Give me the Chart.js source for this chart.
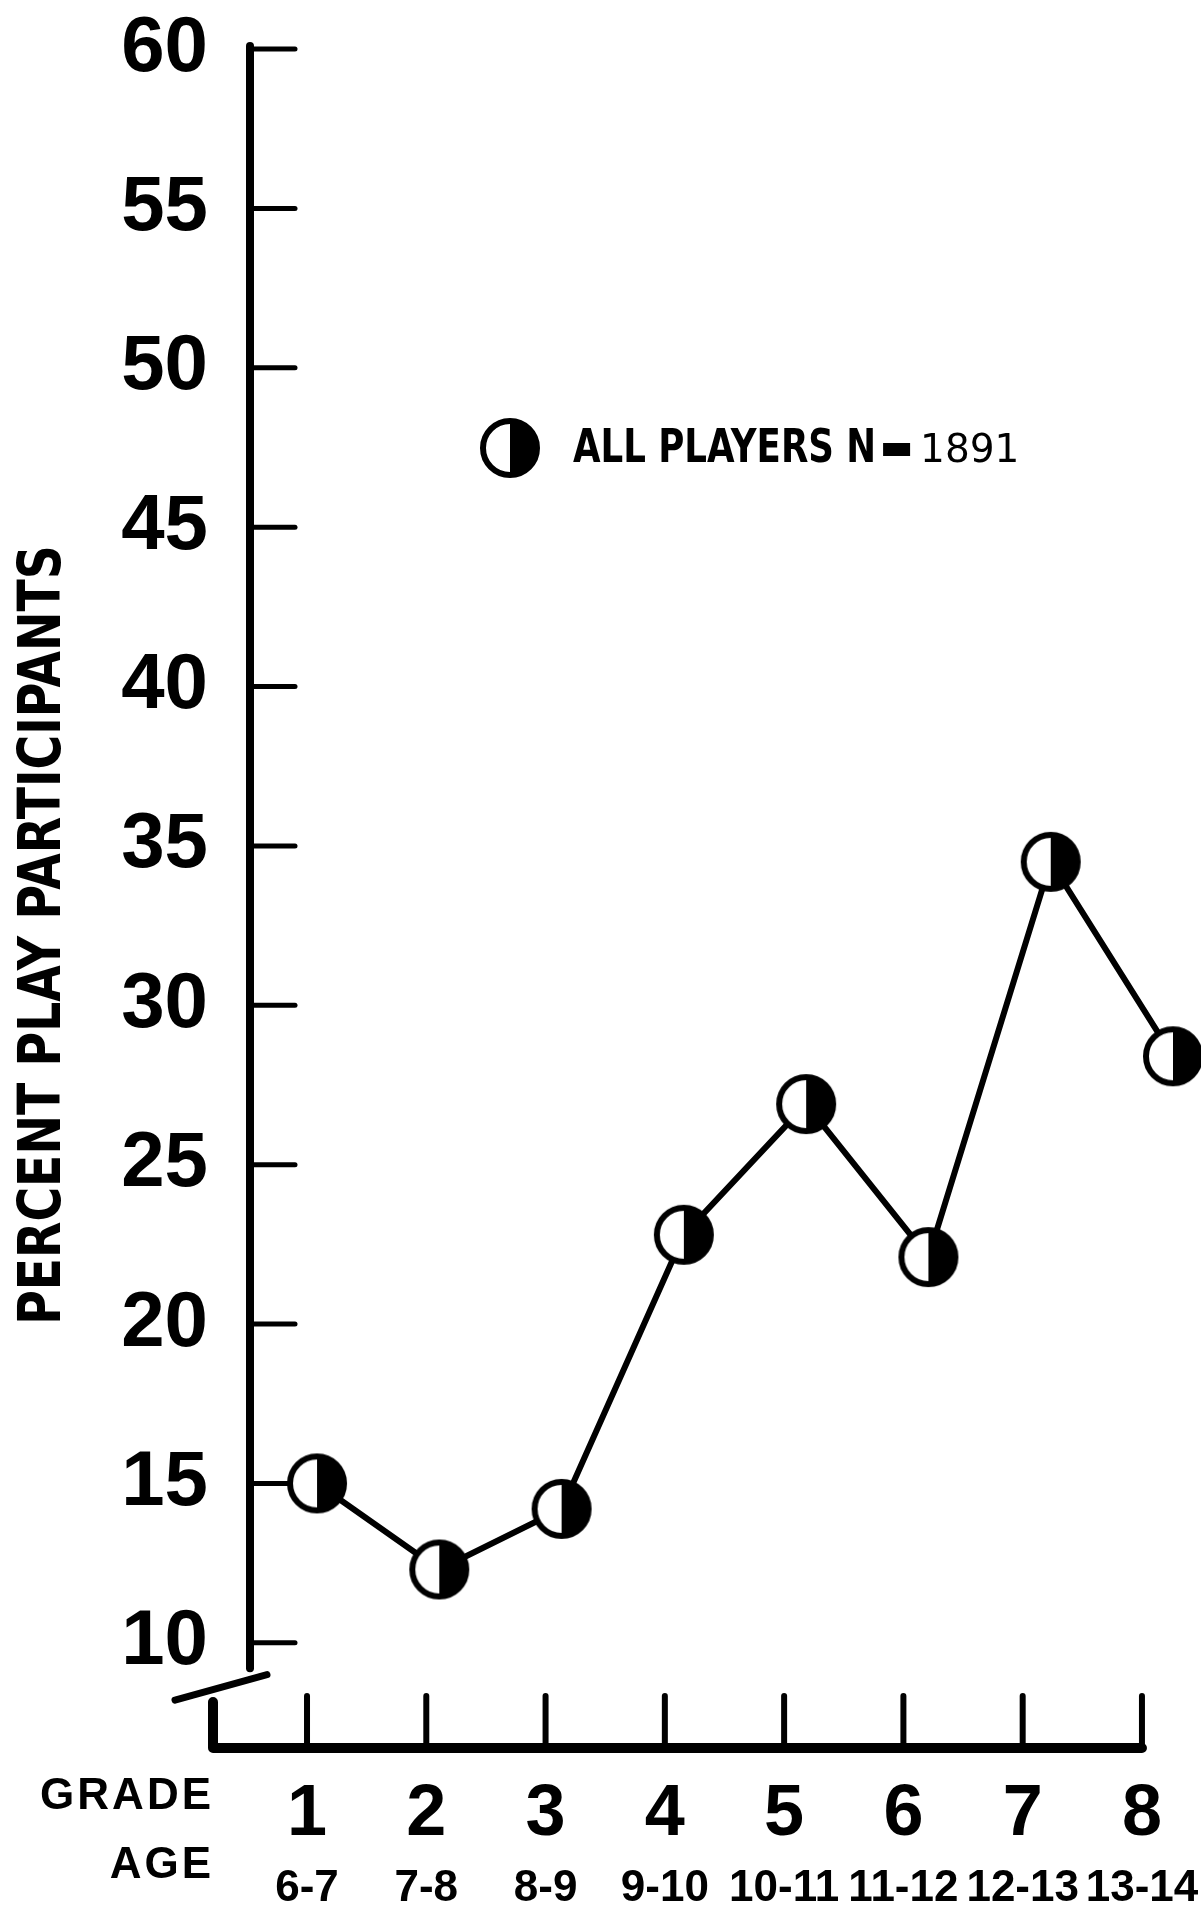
<!DOCTYPE html>
<html><head><meta charset="utf-8">
<script src="https://cdn.jsdelivr.net/npm/chart.js@4.4.1/dist/chart.umd.min.js"></script>
<style>html,body{margin:0;padding:0;background:#fff;} #wrap{width:1201px;height:1925px;position:relative;}</style>
</head><body><div id="wrap"><canvas id="c" width="1201" height="1925"></canvas></div>
<script>
// ---- data ----
const gradePositions = [1, 2, 3, 4, 5, 6, 7, 8];
const grades = ['1', '2', '3', '4', '5', '6', '7', '8'];
const ages = ['6-7', '7-8', '8-9', '9-10', '10-11', '11-12', '12-13', '13-14'];
const percentPlayParticipants = [15.0, 12.3, 14.2, 22.8, 26.9, 22.1, 34.5, 28.4];
const yTickValues = [10, 15, 20, 25, 30, 35, 40, 45, 50, 55, 60];
const seriesName = 'ALL PLAYERS N';
const seriesN = '1891';
const yTitle = 'PERCENT PLAY PARTICIPANTS';
const xRowTitles = ['GRADE', 'AGE'];

const SANS = "'Liberation Sans', Arial, sans-serif";
const COND = "'DejaVu Sans Condensed', 'DejaVu Sans', sans-serif";

function halfMarker(r, lw) {
  const s = Math.ceil(2 * r + lw + 2);
  const c = document.createElement('canvas');
  c.width = s; c.height = s;
  const g = c.getContext('2d');
  const m = s / 2;
  g.fillStyle = '#fff';
  g.beginPath(); g.arc(m, m, r, 0, Math.PI * 2); g.fill();
  g.fillStyle = '#000';
  g.beginPath(); g.moveTo(m, m - r); g.arc(m, m, r, -Math.PI / 2, Math.PI / 2); g.closePath(); g.fill();
  g.strokeStyle = '#000'; g.lineWidth = lw;
  g.beginPath(); g.arc(m, m, r, 0, Math.PI * 2); g.stroke();
  return c;
}
const marker = halfMarker(27, 6);

const points = gradePositions.map((g, i) => ({ x: g, y: percentPlayParticipants[i] }));

const decor = {
  id: 'decor',
  beforeDatasetsDraw(chart) {
    const { ctx, chartArea, scales: { xg, y } } = chart;
    const ax = chartArea.left, by = chartArea.bottom;
    ctx.save();
    ctx.strokeStyle = '#000';
    ctx.lineCap = 'round';
    // y axis line (broken near the bottom)
    ctx.lineWidth = 8;
    ctx.beginPath(); ctx.moveTo(ax, y.getPixelForValue(60) - 3); ctx.lineTo(ax, y.getPixelForValue(9.2)); ctx.stroke();
    // inward y ticks
    ctx.lineWidth = 5;
    y.ticks.forEach(t => {
      const py = y.getPixelForValue(t.value);
      ctx.beginPath(); ctx.moveTo(ax, py); ctx.lineTo(ax + 45, py); ctx.stroke();
    });
    // break slash
    ctx.lineWidth = 7;
    ctx.beginPath(); ctx.moveTo(ax - 75, y.getPixelForValue(8.2)); ctx.lineTo(ax + 17, y.getPixelForValue(9.0)); ctx.stroke();
    // x axis line
    ctx.lineJoin = 'round';
    ctx.lineWidth = 10;
    const x0 = ax - 37, x8 = xg.getPixelForValue(8);
    ctx.beginPath(); ctx.moveTo(x0, by - 46); ctx.lineTo(x0, by); ctx.lineTo(x8, by); ctx.stroke();
    // upward x ticks
    ctx.lineWidth = 6;
    xg.ticks.forEach(t => {
      const px = xg.getPixelForValue(t.value);
      ctx.beginPath(); ctx.moveTo(px, by); ctx.lineTo(px, by - 52); ctx.stroke();
    });
    ctx.restore();
  },
  afterDraw(chart) {
    const { ctx } = chart;
    ctx.save();
    ctx.fillStyle = '#000';
    // y title (condensed)
    ctx.save();
    ctx.translate(45, 935);
    ctx.rotate(-Math.PI / 2);
    ctx.scale(0.905, 1);
    ctx.font = 'bold 58px ' + COND;
    ctx.textAlign = 'center'; ctx.textBaseline = 'middle';
    ctx.fillText(yTitle, 0, 0);
    ctx.restore();
    // row titles
    ctx.textAlign = 'right'; ctx.textBaseline = 'middle';
    ctx.font = 'bold 44px ' + SANS;
    ctx.letterSpacing = '3px';
    ctx.fillText(xRowTitles[0], 214, 1797);
    ctx.fillText(xRowTitles[1], 214, 1866);
    ctx.letterSpacing = '0px';
    // legend
    ctx.drawImage(marker, 510 - marker.width / 2, 448 - marker.height / 2);
    ctx.textAlign = 'left';
    ctx.font = 'bold 46px ' + COND;
    const sx = 0.86;
    const w = ctx.measureText(seriesName).width * sx;
    ctx.save();
    ctx.translate(573, 450);
    ctx.scale(sx, 1);
    ctx.fillText(seriesName, 0, 0);
    ctx.restore();
    ctx.fillRect(573 + w + 7, 443, 27, 13);
    ctx.font = '39px ' + "'DejaVu Sans', sans-serif";
    ctx.fillText(seriesN, 573 + w + 44, 452);
    ctx.restore();
  }
};

const labelAxis = (labels, weight, height, pad, size) => ({
  type: 'linear', position: 'bottom', weight,
  min: 0.522, max: 8.495,
  afterBuildTicks: s => { s.ticks = gradePositions.map(v => ({ value: v })); },
  afterFit: s => { s.height = height; s.paddingLeft = 0; s.paddingRight = 0; },
  grid: { display: false, drawTicks: false },
  border: { display: false },
  ticks: {
    padding: pad, color: '#000',
    font: { family: SANS, weight: 'bold', size },
    callback: (v) => labels[gradePositions.indexOf(v)] ?? ''
  }
});

new Chart(document.getElementById('c'), {
  type: 'line',
  data: {
    datasets: [{
      label: seriesName + ' = ' + seriesN,
      data: points,
      xAxisID: 'x',
      yAxisID: 'y',
      borderColor: '#000',
      borderWidth: 6,
      tension: 0,
      pointStyle: marker,
      pointRadius: 30,
      pointHoverRadius: 30,
      clip: false
    }]
  },
  options: {
    responsive: false,
    animation: false,
    devicePixelRatio: 1,
    layout: { autoPadding: false, padding: { top: 49, right: 0, bottom: 0, left: 0 } },
    plugins: { legend: { display: false }, tooltip: { enabled: false } },
    scales: {
      x: { type: 'linear', display: false, min: 0.452, max: 8.229 },
      xg: labelAxis(grades, 1, 100, 24, 72),
      xa: labelAxis(ages, 2, 77, 14, 44),
      y: {
        type: 'linear', position: 'left',
        min: 6.7, max: 60,
        afterBuildTicks: s => { s.ticks = yTickValues.map(v => ({ value: v })); },
        afterFit: s => { s.width = 250; s.paddingTop = 0; s.paddingBottom = 0; },
        grid: { display: false, drawTicks: false },
        border: { display: false },
        ticks: {
          padding: 42, color: '#000',
          font: { family: SANS, weight: 'bold', size: 78 },
          callback: v => String(v)
        }
      }
    }
  },
  plugins: [decor]
});
</script>
</body></html>
